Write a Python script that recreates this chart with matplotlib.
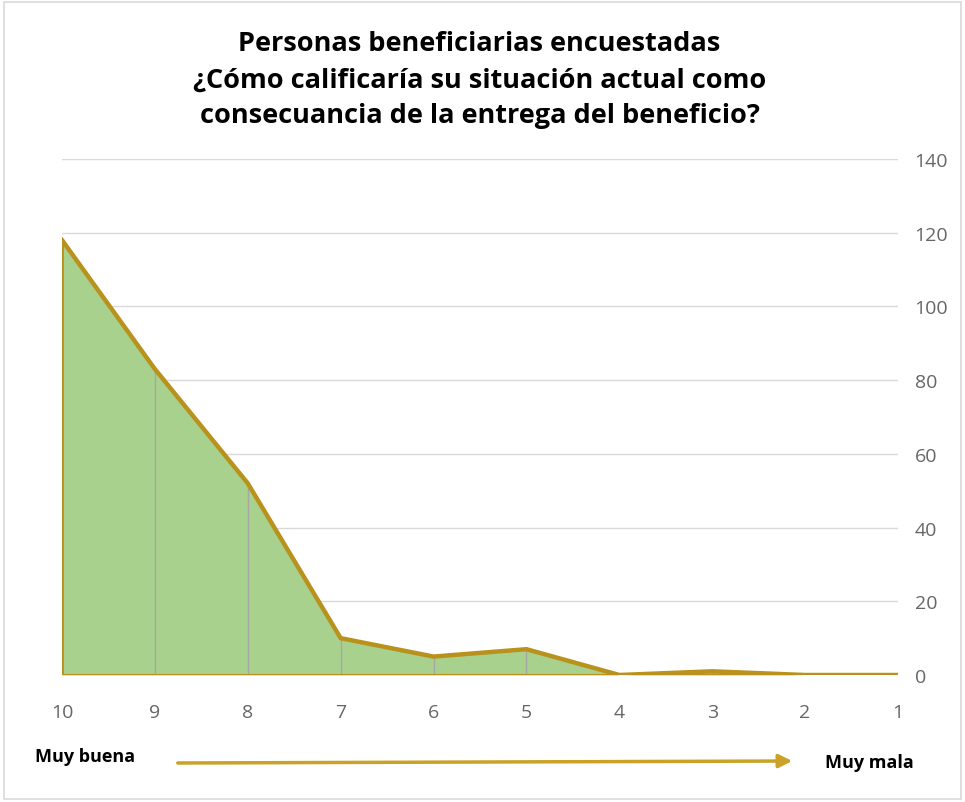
import matplotlib.pyplot as plt
from matplotlib.patches import Rectangle

# Datos
calificaciones = ['10', '9', '8', '7', '6', '5', '4', '3', '2', '1']
personas = [118, 83, 52, 10, 5, 7, 0, 1, 0, 0]
y_ticks = [0, 20, 40, 60, 80, 100, 120, 140]

titulo = ('Personas beneficiarias encuestadas\n'
          '¿Cómo calificaría su situación actual como\n'
          'consecuancia de la entrega del beneficio?')

verde = '#a9d18e'
oro = '#b8921c'
gris_txt = '#666666'

plt.rcParams['font.family'] = ['Open Sans', 'DejaVu Sans']

fig = plt.figure(figsize=(9.65, 8.03), dpi=100)
fig.patches.append(Rectangle((0.004, 0.004), 0.992, 0.992, transform=fig.transFigure,
                             fill=False, edgecolor='#d9d9d9', linewidth=1.2))

ax = fig.add_axes([62 / 965, (803 - 676) / 803, 836 / 965, 516 / 803])
x = list(range(len(calificaciones)))

ax.fill_between(x, personas, 0, color=verde, linewidth=0, zorder=2)
ax.vlines(x[1:-1], 0, personas[1:-1], color='#a6a6a6', linewidth=1, zorder=2.5)
ax.plot(x, personas, color=oro, linewidth=3.2, solid_joinstyle='miter', zorder=3)
ax.axhline(0, color=oro, linewidth=1.5, zorder=3)
ax.vlines([0], 0, personas[0], color=oro, linewidth=2, zorder=3)

ax.set_xlim(0, len(x) - 1)
ax.set_ylim(0, 140)
ax.set_yticks(y_ticks)
ax.set_xticks(x)
ax.set_xticklabels(calificaciones)
ax.yaxis.tick_right()
ax.grid(axis='y', color='#d9d9d9', linewidth=1, zorder=0)
for s in ax.spines.values():
    s.set_visible(False)
ax.tick_params(length=0, labelsize=14, labelcolor=gris_txt)
ax.tick_params(axis='y', pad=12)
ax.tick_params(axis='x', pad=20)

fig.text(0.497, 0.9, titulo, ha='center', va='center', fontsize=19.5,
         fontweight='bold', color='black', linespacing=1.5)

fig.text(35 / 965, 1 - 757 / 803, 'Muy buena', ha='left', va='center',
         fontsize=13, fontweight='bold')
fig.text(825 / 965, 1 - 763 / 803, 'Muy mala', ha='left', va='center',
         fontsize=13, fontweight='bold')
ax.annotate('', xy=(795 / 965, 1 - 762 / 803), xytext=(175 / 965, 1 - 764 / 803),
            xycoords='figure fraction', textcoords='figure fraction',
            arrowprops=dict(arrowstyle='-|>', color='#c9a227', lw=2.5,
                            mutation_scale=20))

fig.savefig('out.png', dpi=100)
